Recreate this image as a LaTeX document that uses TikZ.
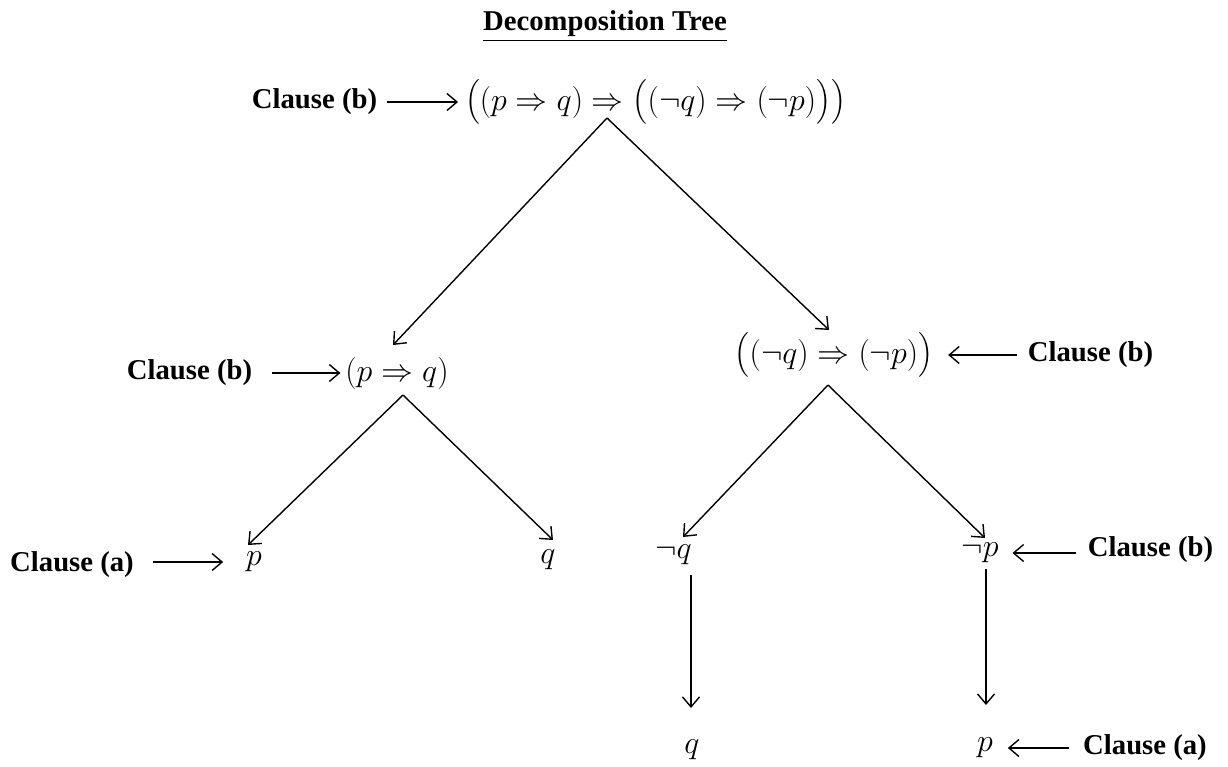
\RequirePackage{fix-cm}
\documentclass[tikz,border=0pt]{standalone}
\usepackage{amsmath}
\usepackage{fontspec}
\setmainfont{Liberation Serif}
\usetikzlibrary{arrows.meta,calc}
\begin{document}
\begin{tikzpicture}[x=1pt,y=-1pt,
  lbl/.style={font=\fontsize{28.7}{32}\selectfont\bfseries, inner sep=0pt, outer sep=0pt},
  fml/.style={font=\fontsize{32}{36}\selectfont, inner sep=0pt, outer sep=0pt},
  arr/.style={line width=1.4pt, -{Straight Barb[length=10pt,width=17pt,line width=1.4pt]}}]
\useasboundingbox (0,0) rectangle (1228,766);
% nodes
\node[lbl] (title) at (605,26) {\underline{Decomposition Tree}};
\node[fml] (top) at (655.5,102) {$\bigl((p\Rightarrow q)\Rightarrow\bigl((\neg q)\Rightarrow(\neg p)\bigr)\bigr)$};
\node[lbl] (c1) at (314.5,102) {Clause (b)};
\node[fml] (mL) at (397,373) {$(p\Rightarrow q)$};
\node[lbl] (c2) at (189.5,373) {Clause (b)};
\node[fml] (mR) at (834,355) {$\bigl((\neg q)\Rightarrow(\neg p)\bigr)$};
\node[lbl] (c3) at (1090.5,355) {Clause (b)};
\node[fml] (p1) at (254,562) {$p$};
\node[lbl] (c4) at (72,565) {Clause (a)};
\node[fml] (q1) at (548,560) {$q$};
\node[fml] (nq) at (673.5,555) {$\neg q$};
\node[fml] (np) at (980,553) {$\neg p$};
\node[lbl] (c5) at (1150.5,550) {Clause (b)};
\node[fml] (q2) at (692,750) {$q$};
\node[fml] (p2) at (985,748) {$p$};
\node[lbl] (c6) at (1145,748) {Clause (a)};
% label arrows
\draw[arr] ($(c1.east)+(10,0)$) -- ($(top.west)+(-7,0)$);
\draw[arr] ($(c2.east)+(20,0)$) -- ($(mL.west)+(-5,0)$);
\draw[arr] ($(c3.west)+(-11,0)$) -- ($(mR.east)+(15,0)$);
\draw[arr] ($(c4.east |- p1)+(19,0)$) -- ($(p1.west)+(-23,0)$);
\draw[arr] ($(c5.west |- np)+(-12,0)$) -- ($(np.east)+(14,0)$);
\draw[arr] ($(c6.west |- p2)+(-14,0)$) -- ($(p2.east)+(15,0)$);
% tree edges
\draw[arr] ($(top)+(-48.5,16)$) -- ($(mL)+(-4,-28)$);
\draw[arr] ($(top)+(-48.5,16)$) -- ($(mR)+(-5,-25)$);
\draw[arr] ($(mL)+(6,22)$) -- ($(p1)+(-6,-17)$);
\draw[arr] ($(mL)+(6,22)$) -- ($(q1)+(5,-20)$);
\draw[arr] ($(mR)+(-6,30)$) -- ($(nq)+(9.5,-18)$);
\draw[arr] ($(mR)+(-6,30)$) -- ($(np)+(5,-15)$);
\draw[arr] ($(nq)+(17.5,20)$) -- ($(q2)+(-1,-42)$);
\draw[arr] ($(np)+(6,16)$) -- ($(p2)+(1,-43)$);
\end{tikzpicture}
\end{document}
